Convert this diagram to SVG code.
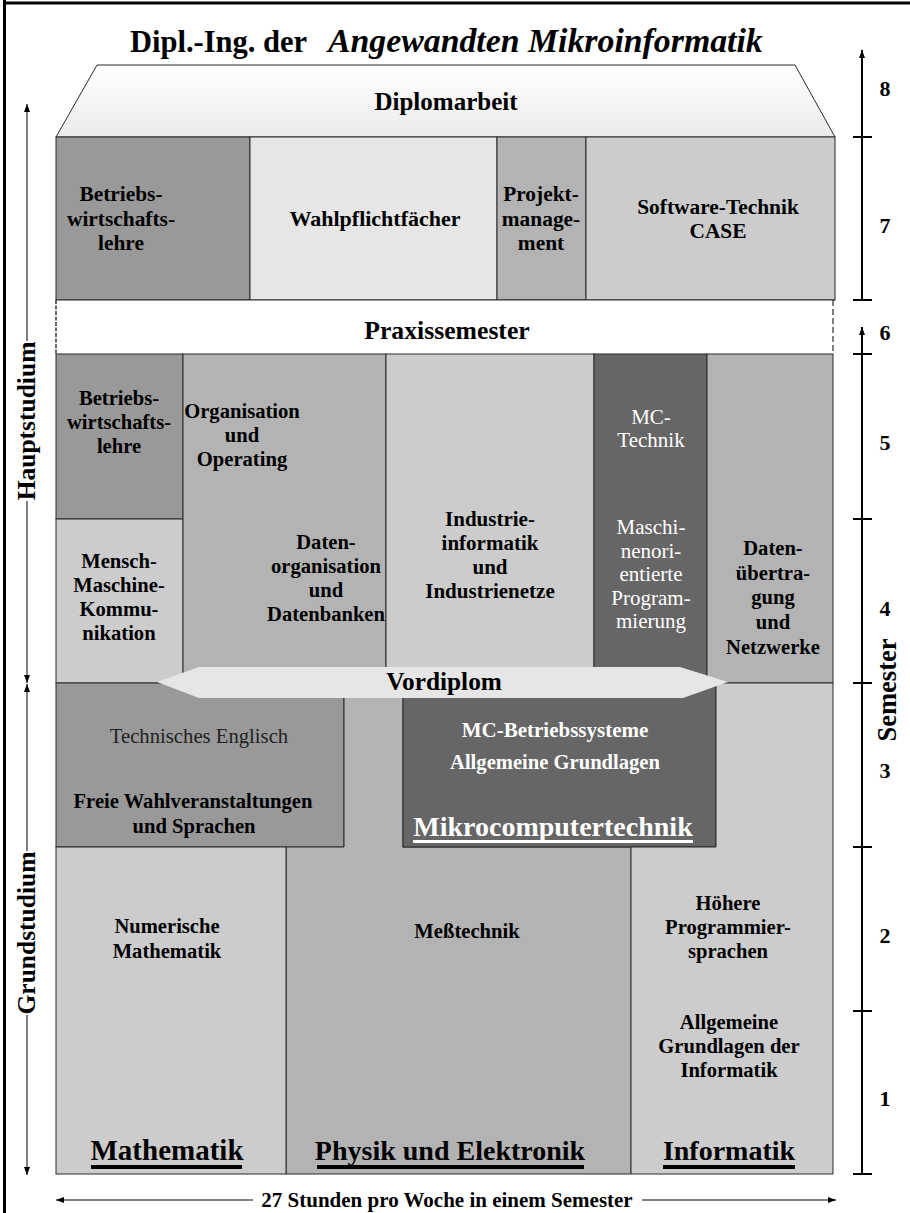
<svg xmlns="http://www.w3.org/2000/svg" width="910" height="1213" viewBox="0 0 910 1213">
<defs>
<linearGradient id="gDip" x1="0" y1="0" x2="0" y2="1">
<stop offset="0" stop-color="#ffffff"/>
<stop offset="1" stop-color="#ebebeb"/>
</linearGradient>
<marker id="ah" viewBox="0 0 8 6" refX="8" refY="3" markerWidth="8" markerHeight="6" orient="auto" markerUnits="userSpaceOnUse">
<path d="M0,0 L8,3 L0,6 z" fill="#000"/>
</marker>
</defs>
<style>
text{font-family:"Liberation Serif","Times New Roman",serif;fill:#000}
.b{font-weight:bold;font-size:20.6px;text-anchor:middle}
.b7{font-weight:bold;font-size:21.4px;text-anchor:middle}
.r{font-weight:normal;font-size:21px;text-anchor:middle}
.w{fill:#fff}
.big{font-weight:bold;font-size:28px;text-anchor:middle}
.num{font-weight:bold;font-size:22px;text-anchor:middle}
.c{stroke:#2a2a2a;stroke-width:1}
.g1{fill:#999999}
.g2{fill:#b3b3b3}
.g3{fill:#cccccc}
.g4{fill:#e6e6e6}
.g5{fill:#666666}
.ax{stroke:#000;stroke-width:1;fill:none}
.sc{stroke:#000;stroke-width:2;fill:none}
.rot{font-weight:bold;font-size:25.5px;text-anchor:middle}
</style>

<g id="frame">
<line x1="4.5" y1="0" x2="4.5" y2="1213" stroke="#000" stroke-width="3"/>
<line x1="3" y1="3" x2="910" y2="3" stroke="#000" stroke-width="3"/>
</g>

<g id="title">
<text x="130" y="52" style="font-size:30.5px;font-weight:bold">Dipl.-Ing. der</text>
<text x="328" y="52" style="font-size:33.8px;font-weight:bold;font-style:italic">Angewandten Mikroinformatik</text>
</g>

<g id="diplomarbeit">
<polygon points="97,65 795,65 835,137 56,137" fill="url(#gDip)" class="c"/>
<text x="446" y="110" class="b" style="font-size:25px">Diplomarbeit</text>
</g>

<g id="bwl7">
<rect x="56" y="137" width="194" height="163" class="g1 c"/>
<text class="b7" x="121"><tspan x="121" y="201">Betriebs-</tspan><tspan x="121" y="226">wirtschafts-</tspan><tspan x="121" y="250">lehre</tspan></text>
</g>
<g id="wahlpflicht">
<rect x="250" y="137" width="247" height="163" class="g4 c"/>
<text class="b7" x="375" y="226" style="font-size:22px">Wahlpflichtfächer</text>
</g>
<g id="projekt">
<rect x="497" y="137" width="89" height="163" class="g2 c"/>
<text class="b7" x="541"><tspan x="541" y="201">Projekt-</tspan><tspan x="541" y="226">manage-</tspan><tspan x="541" y="250">ment</tspan></text>
</g>
<g id="software">
<rect x="586" y="137" width="249" height="163" class="g3 c"/>
<text class="b7" x="718"><tspan x="718" y="214">Software-Technik</tspan><tspan x="718" y="238">CASE</tspan></text>
</g>

<g id="praxis">
<rect x="56" y="300" width="777" height="54" fill="#fff"/>
<line x1="56" y1="300" x2="56" y2="354" stroke="#000" stroke-width="1.2" stroke-dasharray="4,1.5"/>
<line x1="833" y1="300" x2="833" y2="354" stroke="#000" stroke-width="1" stroke-dasharray="6,3"/>
<line x1="56" y1="300" x2="835" y2="300" class="c"/>
<text class="b" x="447" y="339" style="font-size:25.7px">Praxissemester</text>
</g>

<g id="bwl5">
<rect x="56" y="354" width="127" height="165" class="g1 c"/>
<text class="b" x="119"><tspan x="119" y="405">Betriebs-</tspan><tspan x="119" y="429">wirtschafts-</tspan><tspan x="119" y="453">lehre</tspan></text>
</g>
<g id="mmk">
<rect x="56" y="519" width="127" height="164" class="g3 c"/>
<text class="b" x="119"><tspan x="119" y="568">Mensch-</tspan><tspan x="119" y="592">Maschine-</tspan><tspan x="119" y="616">Kommu-</tspan><tspan x="119" y="640">nikation</tspan></text>
</g>
<g id="organisation">
<rect x="183" y="354" width="203" height="329" class="g2 c"/>
<text class="b" x="242"><tspan x="242" y="418">Organisation</tspan><tspan x="242" y="442">und</tspan><tspan x="242" y="466">Operating</tspan></text>
<text class="b" x="326"><tspan x="326" y="549">Daten-</tspan><tspan x="326" y="573">organisation</tspan><tspan x="326" y="597">und</tspan><tspan x="326" y="621">Datenbanken</tspan></text>
</g>
<g id="industrie">
<rect x="386" y="354" width="208" height="329" class="g3 c"/>
<text class="b" x="490" style="font-size:21px"><tspan x="490" y="526">Industrie-</tspan><tspan x="490" y="550">informatik</tspan><tspan x="490" y="574">und</tspan><tspan x="490" y="598">Industrienetze</tspan></text>
</g>
<g id="mctechnik">
<rect x="594" y="354" width="113" height="329" class="g5 c"/>
<text class="r w" x="651"><tspan x="651" y="424">MC-</tspan><tspan x="651" y="447">Technik</tspan></text>
<text class="r w" x="651"><tspan x="651" y="534">Maschi-</tspan><tspan x="651" y="558">nenori-</tspan><tspan x="651" y="581">entierte</tspan><tspan x="651" y="605">Program-</tspan><tspan x="651" y="628">mierung</tspan></text>
</g>
<g id="datenuebertragung">
<rect x="707" y="354" width="126" height="329" class="g2 c"/>
<text class="b" x="773"><tspan x="773" y="555">Daten-</tspan><tspan x="773" y="580">übertra-</tspan><tspan x="773" y="604">gung</tspan><tspan x="773" y="629">und</tspan><tspan x="773" y="654">Netzwerke</tspan></text>
</g>

<g id="freie">
<rect x="56" y="683" width="288" height="164" class="g1 c"/>
<text class="r" x="199" y="743" style="fill:#222;font-size:20.7px">Technisches Englisch</text>
<text class="b" x="193"><tspan x="193" y="808">Freie Wahlveranstaltungen</tspan><tspan x="194" y="833">und Sprachen</tspan></text>
</g>
<g id="physik">
<polygon points="344,683 403,683 403,847 631,847 631,1174 286,1174 286,847 344,847" class="g2 c"/>
<text class="b" x="467" y="938">Meßtechnik</text>
<text class="big" x="450" y="1160">Physik und Elektronik</text>
<rect x="317" y="1165" width="267" height="4" fill="#000"/>
</g>
<g id="mikro">
<rect x="403" y="683" width="313" height="164" class="g5 c"/>
<text class="b w" x="555" y="737" style="font-size:21px">MC-Betriebssysteme</text>
<text class="b w" x="555" y="769">Allgemeine Grundlagen</text>
<text class="big w" x="553" y="836">Mikrocomputertechnik</text>
<rect x="413" y="840" width="280" height="3" fill="#fff"/>
</g>
<g id="informatik">
<polygon points="716,683 833,683 833,1174 631,1174 631,847 716,847" class="g3 c"/>
<text class="b" x="728"><tspan x="728" y="910">Höhere</tspan><tspan x="728" y="934">Programmier-</tspan><tspan x="728" y="958">sprachen</tspan></text>
<text class="b" x="729"><tspan x="729" y="1029">Allgemeine</tspan><tspan x="729" y="1053">Grundlagen der</tspan><tspan x="729" y="1077">Informatik</tspan></text>
<text class="big" x="729" y="1160">Informatik</text>
<rect x="663" y="1165" width="132" height="4" fill="#000"/>
</g>
<g id="mathematik">
<rect x="56" y="847" width="230" height="327" class="g3 c"/>
<text class="b" x="167"><tspan x="167" y="933">Numerische</tspan><tspan x="167" y="958">Mathematik</tspan></text>
<text class="big" x="167" y="1160" style="font-size:29px">Mathematik</text>
<rect x="91" y="1165" width="151" height="4" fill="#000"/>
</g>

<g id="vordiplom">
<polygon points="157,682 199,667 680,667 728,682 683,698 199,698" fill="#e6e6e6"/>
<text class="b" x="444" y="690" style="font-size:25.3px">Vordiplom</text>
</g>

<g id="connectors">
<line x1="27" y1="341" x2="27" y2="104" class="ax" marker-end="url(#ah)"/>
<line x1="27" y1="501" x2="27" y2="683" class="ax" marker-end="url(#ah)"/>
<line x1="27" y1="851" x2="27" y2="684" class="ax" marker-end="url(#ah)"/>
<line x1="27" y1="1015" x2="27" y2="1175" class="ax" marker-end="url(#ah)"/>
<line x1="253" y1="1200" x2="56" y2="1200" class="ax" marker-end="url(#ah)"/>
<line x1="642" y1="1200" x2="836" y2="1200" class="ax" marker-end="url(#ah)"/>
<line x1="862" y1="300" x2="862" y2="50" class="sc" marker-end="url(#ah)"/>
<line x1="862" y1="1174" x2="862" y2="327" class="sc" marker-end="url(#ah)"/>
<path d="M853,137 H872 M853,300 H872 M853,354 H872 M853,519 H872 M853,683 H872 M853,847 H872 M853,1011 H872 M853,1174 H872" class="sc"/>
</g>

<g id="labels">
<text transform="translate(35,421) rotate(-90)" class="rot">Hauptstudium</text>
<text transform="translate(35,933) rotate(-90)" class="rot">Grundstudium</text>
<text transform="translate(896,690) rotate(-90)" class="rot" style="font-size:26.5px">Semester</text>
<text class="b" x="447" y="1207" style="font-size:21px">27 Stunden pro Woche in einem Semester</text>
<text class="num" x="885" y="96">8</text>
<text class="num" x="885" y="233">7</text>
<text class="num" x="885" y="340">6</text>
<text class="num" x="885" y="450">5</text>
<text class="num" x="885" y="616">4</text>
<text class="num" x="885" y="778">3</text>
<text class="num" x="885" y="943">2</text>
<text class="num" x="885" y="1106">1</text>
</g>
</svg>
